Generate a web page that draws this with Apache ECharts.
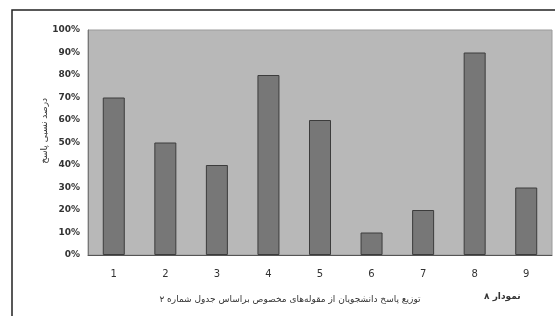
<!DOCTYPE html>
<html>
<head>
<meta charset="utf-8">
<script src="https://cdn.jsdelivr.net/npm/echarts@6/dist/echarts.min.js"></script>
<style>
  html, body { margin: 0; padding: 0; background: #fff; }
  #chart { width: 555px; height: 316px; }
</style>
</head>
<body>
<div id="chart"></div>
<script>
// داده‌ها
var categories = ['1', '2', '3', '4', '5', '6', '7', '8', '9'];
var values = [70, 50, 40, 80, 60, 10, 20, 90, 30];
var xTitle = 'توزیع پاسخ دانشجویان از مقوله‌های مخصوص براساس جدول شماره ۲';
var yTitle = 'درصد نسبی پاسخ';
var figLabel = 'نمودار ۸';

var chart = echarts.init(document.getElementById('chart'));
var option = {
  backgroundColor: '#fff',
  animation: false,
  grid: {
    left: 88, right: 3, top: 30, bottom: 61,
    outerBoundsMode: 'none', containLabel: false,
    show: true, backgroundColor: '#b8b8b8', borderColor: '#9a9a9a', borderWidth: 1
  },
  graphic: [
    { type: 'rect', shape: { x: 12, y: 10, width: 600, height: 400 }, style: { fill: 'none', stroke: '#222', lineWidth: 1.5 }, z: -1 },
    { type: 'text', left: 484, top: 292, style: { text: figLabel, font: 'bold 9px "DejaVu Sans"', fill: '#333' } },
    { type: 'text', left: 40, top: 98, rotation: Math.PI / 2, style: { text: yTitle, font: '9px "DejaVu Sans"', fill: '#333' } }
  ],
  xAxis: {
    type: 'category',
    data: categories,
    axisLine: { show: true, lineStyle: { color: '#555' } },
    axisTick: { show: false },
    axisLabel: { color: '#333', fontSize: 10, margin: 14, fontFamily: 'DejaVu Sans' },
    name: xTitle,
    nameLocation: 'middle',
    nameGap: 40,
    nameTextStyle: { color: '#333', fontSize: 9, fontFamily: 'DejaVu Sans', padding: [0, 60, 0, 0] }
  },
  yAxis: {
    type: 'value',
    min: 0, max: 100, interval: 10,
    axisLine: { show: true, lineStyle: { color: '#777' } },
    axisTick: { show: false },
    splitLine: { show: false },
    axisLabel: { formatter: '{value}%', color: '#333', fontSize: 9, fontWeight: 'bold', fontFamily: 'DejaVu Sans', margin: 8 }
  },
  series: [{
    type: 'bar',
    data: values,
    barWidth: 22,
    itemStyle: { color: '#777777', borderColor: '#3c3c3c', borderWidth: 1 }
  }]
};
chart.setOption(option);
</script>
</body>
</html>
